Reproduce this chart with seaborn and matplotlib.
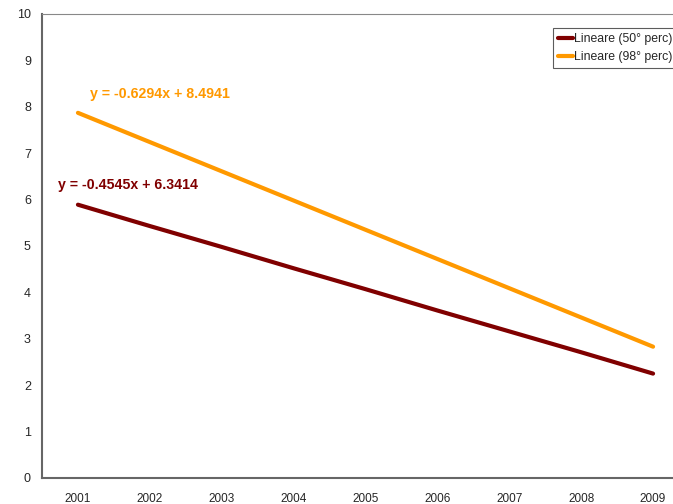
import matplotlib.pyplot as plt
import numpy as np
import pandas as pd
import seaborn as sns

# anni e valori delle linee di tendenza
years = ['2001', '2002', '2003', '2004', '2005', '2006', '2007', '2008', '2009']
perc50 = [5.89, 5.43, 4.98, 4.52, 4.07, 3.61, 3.16, 2.71, 2.25]
perc98 = [7.87, 7.24, 6.61, 5.98, 5.35, 4.72, 4.09, 3.46, 2.83]
labels = ['Lineare (50° perc)', 'Lineare (98° perc)']
eq50 = 'y = -0.4545x + 6.3414'
eq98 = 'y = -0.6294x + 8.4941'

sns.set_style('white')
plt.rcParams['font.family'] = ['Liberation Sans', 'DejaVu Sans']

df = pd.DataFrame({'year': years * 2,
                   'value': perc50 + perc98,
                   'serie': [labels[0]] * len(years) + [labels[1]] * len(years)})
df['pos'] = list(range(len(years))) * 2

fig = plt.figure(figsize=(6.73, 5.04), dpi=100)
ax = fig.add_axes([42 / 673, 26 / 504, 647 / 673, 464 / 504])

colors = {labels[0]: '#800000', labels[1]: '#FF9900'}
sns.lineplot(data=df, x='pos', y='value', hue='serie', palette=colors, linewidth=3,
             ax=ax, legend=False)

ax.set_xlim(-0.5, len(years) - 0.5)
ax.set_ylim(0, 10)
ax.set_yticks(range(0, 11))
ax.set_xticks(range(len(years)))
ax.set_xticklabels(years)
ax.set_xticks(np.arange(-0.5, len(years), 1), minor=True)
ax.tick_params(axis='x', which='major', length=0, labelsize=8.5, pad=11)
ax.tick_params(axis='x', which='minor', length=5, width=1, color='#444444', direction='out')
ax.tick_params(axis='y', length=5, width=1, color='#444444', direction='out', labelsize=9, pad=3)
ax.set_xlabel('')
ax.set_ylabel('')

for side in ['left', 'bottom']:
    ax.spines[side].set_color('#666666')
    ax.spines[side].set_linewidth(1.5)
ax.spines['top'].set_color('#888888')
ax.spines['top'].set_linewidth(0.8)
ax.spines['right'].set_visible(False)

ax.text(90 / 673, 1 - 94 / 504, eq98, transform=fig.transFigure, color='#FF9900',
        fontsize=10.2, fontweight='bold', va='center', ha='left')
ax.text(58 / 673, 1 - 185 / 504, eq50, transform=fig.transFigure, color='#800000',
        fontsize=10.2, fontweight='bold', va='center', ha='left')

handles = [plt.Line2D([], [], color=colors[l], linewidth=3) for l in labels]
leg = fig.legend(handles=handles, labels=labels, loc='upper left',
                 bbox_to_anchor=(553 / 673, 1 - 28 / 504), frameon=True, fancybox=False,
                 fontsize=8.8, handlelength=1.2, handletextpad=0.1, borderpad=0.4,
                 labelspacing=0.5, borderaxespad=0)
leg.get_frame().set_edgecolor('#333333')
leg.get_frame().set_linewidth(0.8)

plt.savefig('out.png', dpi=100)
